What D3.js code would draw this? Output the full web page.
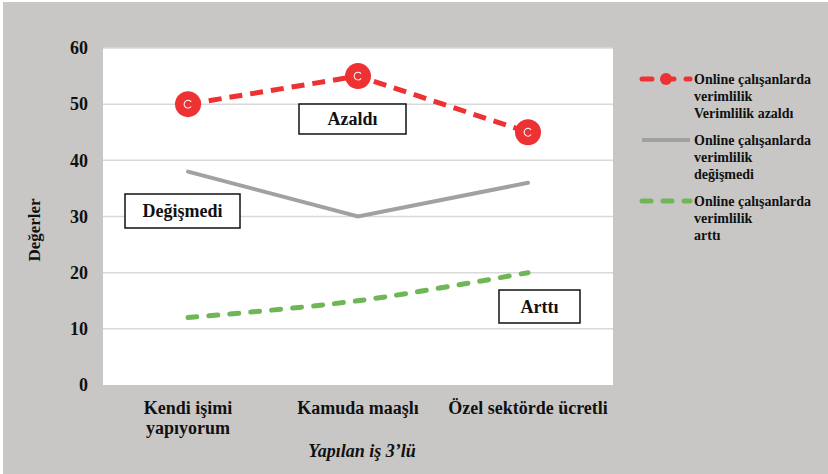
<!DOCTYPE html>
<html>
<head>
<meta charset="utf-8">
<script src="https://cdn.jsdelivr.net/npm/d3@7"></script>
<style>
  body { margin: 0; background: #fff; }
</style>
</head>
<body>
<div id="chart"></div>
<script>
var w = 828;
var h = 474;
var FONT = "'Liberation Serif'";

// categories (x axis)
var categories = ["Kendi işimi\nyapıyorum", "Kamuda maaşlı", "Özel sektörde ücretli"];
// series values
var azaldi = [50, 55, 45];
var degismedi = [38, 30, 36];
var artti = [12, 15, 20];
var yTicks = [0, 10, 20, 30, 40, 50, 60];

var seriesNames = [
    ["Online çalışanlarda", "verimlilik", "Verimlilik azaldı"],
    ["Online çalışanlarda", "verimlilik", "değişmedi"],
    ["Online çalışanlarda", "verimlilik", "arttı"]
];

var plotLeft = 103, plotRight = 613, plotTop = 48, plotBottom = 385;

var svg = d3.select("#chart")
    .append("svg")
    .attr("width", w)
    .attr("height", h);

// grey page background
svg.append("rect")
    .attr("x", 3).attr("y", 2)
    .attr("width", w - 3).attr("height", h - 2)
    .attr("fill", "#c8c7c5");

// white plot area
svg.append("rect")
    .attr("x", plotLeft).attr("y", plotTop)
    .attr("width", plotRight - plotLeft).attr("height", plotBottom - plotTop)
    .attr("fill", "#fff");

var xScale = d3.scalePoint()
    .domain(categories)
    .range([plotLeft, plotRight])
    .padding(0.5);

var yScale = d3.scaleLinear()
    .domain([0, 60])
    .range([plotBottom, plotTop]);

// gridlines
svg.append("g").selectAll("line")
    .data(yTicks.slice(1))
    .enter().append("line")
    .attr("x1", plotLeft).attr("x2", plotRight)
    .attr("y1", function (d) { return yScale(d); })
    .attr("y2", function (d) { return yScale(d); })
    .attr("stroke", "#d9d9d9")
    .attr("stroke-width", 1.5);

// y axis labels
let yAxis = d3.axisLeft(yScale).tickValues(yTicks).tickSize(0).tickPadding(15);
let gy = svg.append("g").attr("transform", "translate(" + plotLeft + ",0)").call(yAxis);
gy.select(".domain").remove();
gy.attr("font-family", FONT);
gy.selectAll("text").attr("font-size", 18).attr("font-family", FONT).attr("font-weight", "bold").attr("fill", "#111");

// x axis labels
let gx = svg.append("g");
gx.selectAll("text")
    .data(categories)
    .enter().append("text")
    .attr("text-anchor", "middle")
    .attr("font-family", FONT)
    .attr("font-weight", "bold")
    .attr("fill", "#111")
    .attr("font-size", 18)
    .each(function (d) {
        var lines = d.split("\n");
        var t = d3.select(this);
        lines.forEach(function (l, i) {
            t.append("tspan")
                .attr("x", xScale(d))
                .attr("y", 414 + i * 20)
                .text(l);
        });
    });

// axis titles
svg.append("text")
    .attr("x", 362).attr("y", 457)
    .attr("text-anchor", "middle")
    .attr("font-family", FONT)
    .attr("font-size", 18)
    .attr("font-weight", "bold")
    .attr("font-style", "italic")
    .attr("fill", "#111")
    .text("Yapılan iş 3’lü");

svg.append("text")
    .attr("transform", "translate(40,230) rotate(-90)")
    .attr("text-anchor", "middle")
    .attr("font-family", FONT)
    .attr("font-weight", "bold")
    .attr("fill", "#111")
    .attr("font-size", 17)
    .text("Değerler");

// lines
var line = d3.line()
    .x(function (d, i) { return xScale(categories[i]); })
    .y(function (d) { return yScale(d); });

var smooth = d3.line()
    .x(function (d, i) { return xScale(categories[i]); })
    .y(function (d) { return yScale(d); })
    .curve(d3.curveCatmullRom.alpha(0.5));

svg.append("path")
    .datum(degismedi)
    .attr("fill", "none")
    .attr("stroke", "#a0a2a2")
    .attr("stroke-width", 4)
    .attr("stroke-linecap", "round")
    .attr("d", line);

svg.append("path")
    .datum(artti)
    .attr("fill", "none")
    .attr("stroke", "#6fb756")
    .attr("stroke-width", 5)
    .attr("stroke-linecap", "round")
    .attr("stroke-dasharray", "9,12")
    .attr("d", smooth);

svg.append("path")
    .datum(azaldi)
    .attr("fill", "none")
    .attr("stroke", "#ee3132")
    .attr("stroke-width", 5)
    .attr("stroke-dasharray", "13,8")
    .attr("d", line);

var marks = svg.append("g").selectAll("g")
    .data(azaldi)
    .enter().append("g")
    .attr("transform", function (d, i) { return "translate(" + xScale(categories[i]) + "," + yScale(d) + ")"; });
marks.append("circle").attr("r", 13).attr("fill", "#ee3132");
marks.append("path")
    .attr("d", d3.arc().innerRadius(3.4).outerRadius(4.4).startAngle(Math.PI * 0.7).endAngle(Math.PI * 2.3))
    .attr("fill", "#fff");

// annotation boxes
var notes = [
    { text: "Azaldı", x: 299, y: 104, w: 107, h: 30 },
    { text: "Değişmedi", x: 125, y: 194, w: 115, h: 34 },
    { text: "Arttı", x: 499, y: 290, w: 81, h: 33 }
];
var ng = svg.append("g").selectAll("g").data(notes).enter().append("g");
ng.append("rect")
    .attr("x", function (d) { return d.x; })
    .attr("y", function (d) { return d.y; })
    .attr("width", function (d) { return d.w; })
    .attr("height", function (d) { return d.h; })
    .attr("fill", "#fff")
    .attr("stroke", "#111")
    .attr("stroke-width", 1.5);
ng.append("text")
    .attr("x", function (d) { return d.x + d.w / 2; })
    .attr("y", function (d) { return d.y + d.h / 2 + 6; })
    .attr("text-anchor", "middle")
    .attr("font-family", FONT)
    .attr("font-weight", "bold")
    .attr("fill", "#111")
    .attr("font-size", 18)
    .text(function (d) { return d.text; });

// legend
var legendY = [79, 140, 201];
var leg = svg.append("g").selectAll("g")
    .data(seriesNames)
    .enter().append("g")
    .attr("transform", function (d, i) { return "translate(0," + legendY[i] + ")"; });

leg.each(function (d, i) {
    var g = d3.select(this);
    var l = g.append("line").attr("x1", 642).attr("x2", 690).attr("y1", 0).attr("y2", 0)
        .attr("stroke-width", 5).attr("stroke-linecap", "round");
    if (i === 0) {
        l.attr("stroke", "#ee3132").attr("stroke-dasharray", "10,12");
        g.append("circle").attr("cx", 666).attr("cy", 0).attr("r", 6).attr("fill", "#ee3132");
    } else if (i === 1) {
        l.attr("stroke", "#a0a2a2").attr("stroke-width", 4).attr("stroke-linecap", "butt");
    } else {
        l.attr("stroke", "#6fb756").attr("stroke-dasharray", "9,12");
    }
    d.forEach(function (s, j) {
        g.append("text")
            .attr("x", 694)
            .attr("y", 5 + j * 17)
            .attr("font-family", FONT)
            .attr("font-weight", "bold")
            .attr("fill", "#111")
            .attr("font-size", 14)
            .text(s);
    });
});
</script>
</body>
</html>
